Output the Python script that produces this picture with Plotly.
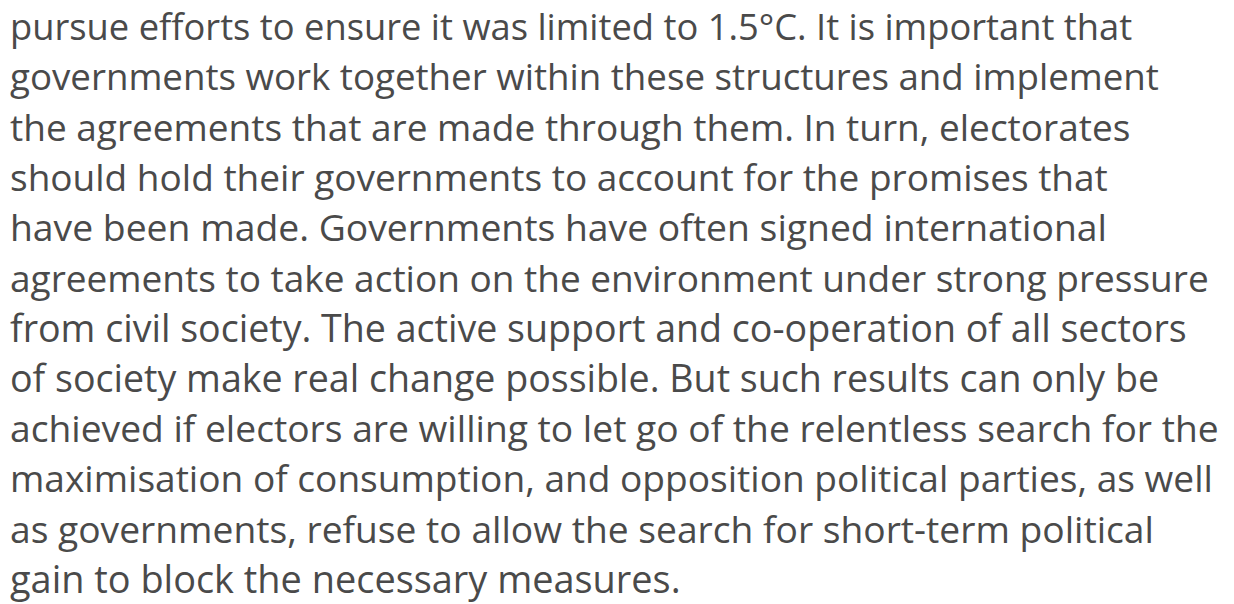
import plotly.graph_objects as go

lines = [
    "pursue efforts to ensure it was limited to 1.5°C. It is important that",
    "governments work together within these structures and implement",
    "the agreements that are made through them. In turn, electorates",
    "should hold their governments to account for the promises that",
    "have been made. Governments have often signed international",
    "agreements to take action on the environment under strong pressure",
    "from civil society. The active support and co-operation of all sectors",
    "of society make real change possible. But such results can only be",
    "achieved if electors are willing to let go of the relentless search for the",
    "maximisation of consumption, and opposition political parties, as well",
    "as governments, refuse to allow the search for short-term political",
    "gain to block the necessary measures.",
]

# --- style ---
W, H = 1234, 604
left_px = 12 - 3
first_baseline = 38.0
line_step = 50.2
font_family = "Open Sans"
color = "#4a4a4a"
# per-line size tuning so each line's width follows the reference typeface
line_sizes = [36.3, 36.7, 37.0, 37.0, 37.3, 37.0, 37.6, 37.6, 37.2, 37.1, 37.2, 37.9]

fig = go.Figure()
annotations = []
for i, t in enumerate(lines):
    fs = line_sizes[i]
    baseline = first_baseline + i * line_step
    center = baseline - 0.32 * fs
    annotations.append(dict(
        text=t, xref="paper", yref="paper",
        x=left_px / W, y=1 - center / H,
        xanchor="left", yanchor="middle", showarrow=False,
        font=dict(family=font_family, size=fs, color=color),
        borderpad=0,
    ))

fig.update_layout(
    width=W, height=H,
    margin=dict(l=0, r=0, t=0, b=0),
    paper_bgcolor="white", plot_bgcolor="white",
    xaxis=dict(visible=False), yaxis=dict(visible=False),
    annotations=annotations,
    showlegend=False,
)
fig.write_html(
    "out.html",
    config={"displayModeBar": False, "staticPlot": True},
    post_script="document.body.style.margin='0';document.body.style.overflow='hidden';",
)
